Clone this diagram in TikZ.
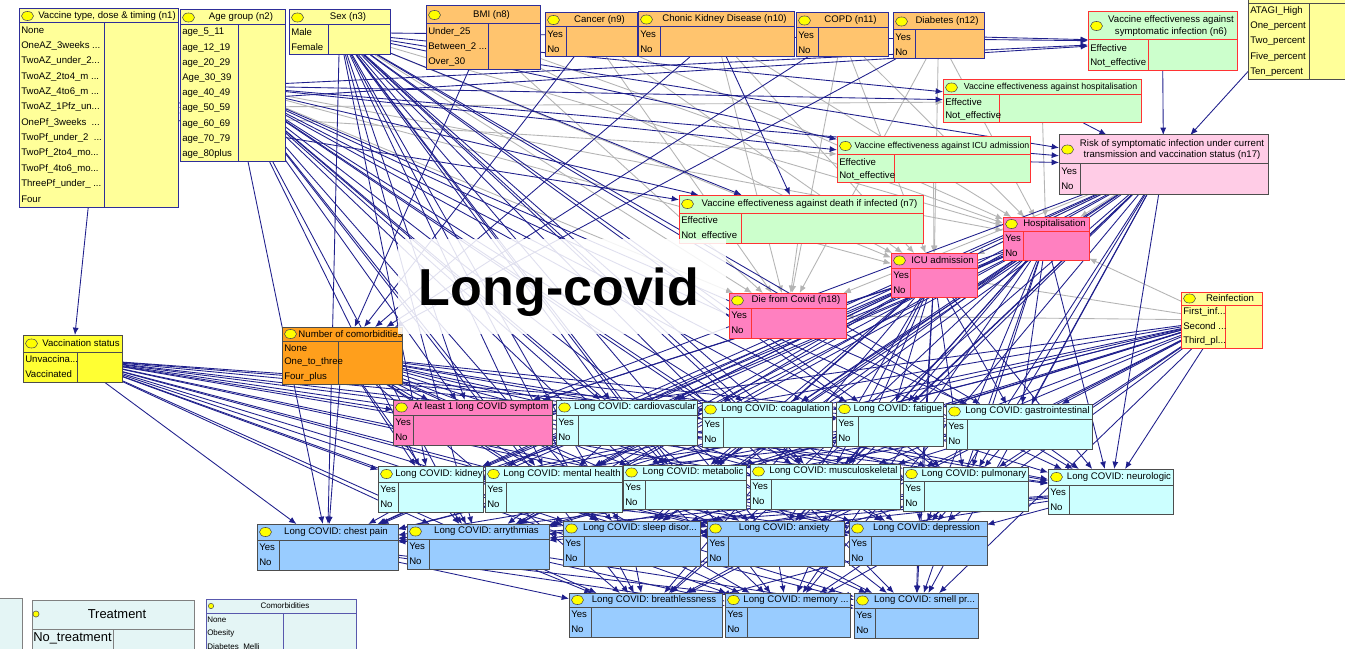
\documentclass[tikz,border=0pt]{standalone}
\usepackage{fontspec}
\setmainfont{Liberation Sans}
\usepackage{xcolor}
\usetikzlibrary{fit,calc,backgrounds,arrows.meta}
\definecolor{NetYellow}{HTML}{FFFF99}
\definecolor{NetAmber}{HTML}{FFC46E}
\definecolor{NetGreen}{HTML}{CCFFCC}
\definecolor{NetPink}{HTML}{FF80C0}
\definecolor{NetRose}{HTML}{FFCCE6}
\definecolor{NetCyan}{HTML}{CCFFFF}
\definecolor{NetSky}{HTML}{99CCFF}
\definecolor{NetLemon}{HTML}{FFFF33}
\definecolor{NetOrange}{HTML}{FF9F1C}
\definecolor{NetMist}{HTML}{E4F5F5}
\definecolor{NetNavy}{HTML}{1F1F8C}
\definecolor{NetEdge}{HTML}{2E2E99}
\definecolor{NetRed}{HTML}{FF3333}
\definecolor{NetGrey}{HTML}{4D4D4D}
\definecolor{NetFaint}{HTML}{B4B4B4}
\definecolor{NetLamp}{HTML}{FFFF00}

\tikzset{
  demo/.style={fill=NetYellow,draw=NetEdge},
  riskf/.style={fill=NetAmber,draw=NetEdge},
  effect/.style={fill=NetGreen,draw=NetRed},
  outcome/.style={fill=NetPink,draw=NetRed},
  anyn/.style={fill=NetPink,draw=NetGrey},
  riskn/.style={fill=NetRose,draw=NetGrey},
  reinfn/.style={fill=NetYellow,draw=NetRed},
  atagin/.style={fill=NetYellow,draw=NetGrey},
  vstatn/.style={fill=NetLemon,draw=NetGrey},
  ncomn/.style={fill=NetOrange,draw=NetGrey},
  lcA/.style={fill=NetCyan,draw=NetGrey},
  lcB/.style={fill=NetSky,draw=NetGrey},
  legn/.style={fill=NetMist,draw=gray},
  netbox/.style={line width=.75pt,inner sep=0pt,outer sep=0pt},
  lamp/.style={fill=NetLamp,draw=black!70,line width=.4pt},
  ntitle/.style={font=\fontsize{7.2}{8.6}\selectfont,inner sep=0pt,align=center},
  nstate/.style={font=\fontsize{7.2}{8.6}\selectfont,inner sep=0pt,anchor=west},
  link/.style={draw=NetNavy,line width=.65pt,-{Latex[length=5.5pt,width=4.5pt]}},
  faint/.style={draw=NetFaint,line width=.65pt,-{Latex[length=5.5pt,width=4.5pt]}},
}

\newcommand\trunc{...}
\newcommand\smallhead{\fontsize{6.6}{7.6}\selectfont}
\newcommand\lcnodes{anylc,lccard,lccoag,lcfat,lcgast,lckid,lcment,lcmeta,lcmusc,lcpulm,lcneur,lcchest,lcarr,lcsleep,lcanx,lcdep,lcbreath,lcmem,lcsmell}

% name, style, top left, bottom right, header bottom, divider, title
\newcommand\netnode[9]{%
  \node[netbox,#2,fit={(#3,#4) (#5,#6)}] (#1) {};
  \draw[netbox,#2,fill=none] (#3,#7) -- (#5,#7) (#8,#7) -- (#8,#6);
  \coordinate (#1-s) at (#3,#7);
  \path[lamp] (#3+8.5,{(#4+#7)/2}) ellipse [x radius=4.5pt,y radius=3.4pt];
  \node[ntitle] at ({(#3+17+#5)/2},{(#4+#7)/2}) {#9};
}
% [row pitch] name, states
\newcommand\nodestates[3][15]{%
  \foreach \st [count=\i] in {#3}
    \node[nstate] at ($(#2-s)+(2,{(\i-0.5)*#1})$) {\st};
}

\begin{document}
\begin{tikzpicture}[x=.75pt,y=-.75pt]
\useasboundingbox (0,0) rectangle (1345,649);
\clip (0,0) rectangle (1345,649);

\netnode{vtype}{demo}{19}{9}{178}{207}{23}{104}{Vaccine type, dose \& timing (n1)}
\nodestates[15.33]{vtype}{None,OneAZ\_3weeks \trunc,TwoAZ\_under\_2\trunc,TwoAZ\_2to4\_m \trunc,TwoAZ\_4to6\_m \trunc,TwoAZ\_1Pfz\_un\trunc,OnePf\_3weeks \ \trunc,TwoPf\_under\_2 \ \trunc,TwoPf\_2to4\_mo\trunc,TwoPf\_4to6\_mo\trunc,ThreePf\_under\_ \trunc,Four}
\netnode{age}{demo}{180}{10}{285}{162}{25}{238}{Age group (n2)}
\nodestates[15.2]{age}{age\_5\_11,age\_12\_19,age\_20\_29,Age\_30\_39,age\_40\_49,age\_50\_59,age\_60\_69,age\_70\_79,age\_80plus}
\netnode{sex}{demo}{289}{10}{390}{55}{25}{328}{Sex (n3)}
\nodestates{sex}{Male,Female}

\netnode{bmi}{riskf}{426}{6}{540}{70}{24}{488}{BMI (n8)}
\nodestates[15.3]{bmi}{Under\_25,Between\_2 \trunc,Over\_30}
\netnode{cancer}{riskf}{545}{13}{637}{57}{27}{566}{Cancer (n9)}
\nodestates{cancer}{Yes,No}
\netnode{ckd}{riskf}{638}{12}{794}{57}{27}{660}{Chonic Kidney Disease (n10)}
\nodestates{ckd}{Yes,No}
\netnode{copd}{riskf}{796}{13}{888}{57}{28}{818}{COPD (n11)}
\nodestates[14.5]{copd}{Yes,No}
\netnode{diab}{riskf}{893}{13}{984}{59}{30}{915}{Diabetes (n12)}
\nodestates[14.5]{diab}{Yes,No}

\netnode{vesym}{effect}{1088}{12}{1237}{71}{40}{1148}{Vaccine effectiveness against\\symptomatic infection (n6)}
\nodestates[15.5]{vesym}{Effective,Not\_effective}
\netnode{atagi}{atagin}{1248}{-60}{1360}{80}{3.5}{1309}{}
\nodestates[15.2]{atagi}{ATAGI\_High,One\_percent,Two\_percent,Five\_percent,Ten\_percent}
\netnode{vehosp}{effect}{943}{80}{1141}{123}{95}{999}{\smallhead Vaccine effectiveness against hospitalisation}
\nodestates[14]{vehosp}{Effective,Not\_effective}
\netnode{veicu}{effect}{837}{137}{1030}{183}{155}{894}{\smallhead Vaccine effectiveness against ICU admission}
\nodestates[14]{veicu}{Effective,Not\_effective}
\netnode{risk}{riskn}{1059}{135}{1268}{194}{164}{1080}{Risk of symptomatic infection under current\\transmission and vaccination status (n17)}
\nodestates{risk}{Yes,No}
\netnode{vedeath}{effect}{679}{195}{923}{243}{213}{741}{Vaccine effectiveness against death if infected (n7)}
\nodestates{vedeath}{Effective,Not\_effective}

\netnode{hosp}{outcome}{1003}{217}{1089}{260}{231}{1023}{Hospitalisation}
\nodestates[14.5]{hosp}{Yes,No}
\netnode{icu}{outcome}{891}{253}{977}{297}{268}{910}{ICU admission}
\nodestates[14.5]{icu}{Yes,No}
\netnode{die}{outcome}{729}{293}{846}{338}{308}{751}{Die from Covid (n18)}
\nodestates{die}{Yes,No}
\netnode{reinf}{reinfn}{1181}{292}{1262}{348}{305}{1225}{Reinfection}
\nodestates[14.3]{reinf}{First\_inf\trunc,Second \trunc,Third\_pl\trunc}

\netnode{vstat}{vstatn}{23}{335}{122}{382}{352}{77}{Vaccination status}
\nodestates{vstat}{Unvaccina\trunc,Vaccinated}
\netnode{ncom}{ncomn}{282}{327}{402}{384}{341}{338}{Number of comorbidities}
\nodestates[14.3]{ncom}{None,One\_to\_three,Four\_plus}

\netnode{anylc}{anyn}{393}{400}{552}{445}{415}{413}{At least 1 long COVID symptom}
\nodestates{anylc}{Yes,No}
\netnode{lccard}{lcA}{556}{400}{697}{445}{415}{578}{Long COVID: cardiovascular}
\nodestates{lccard}{Yes,No}
\netnode{lccoag}{lcA}{702}{402}{832}{447}{417}{723}{Long COVID: coagulation}
\nodestates{lccoag}{Yes,No}
\netnode{lcfat}{lcA}{836}{402}{943}{446}{416}{858}{Long COVID: fatigue}
\nodestates{lcfat}{Yes,No}
\netnode{lcgast}{lcA}{946}{404}{1092}{449}{419}{967}{Long COVID: gastrointestinal}
\nodestates{lcgast}{Yes,No}

\netnode{lckid}{lcA}{378}{466}{483}{512}{482}{398}{Long COVID: kidney}
\nodestates{lckid}{Yes,No}
\netnode{lcment}{lcA}{485}{466}{622}{512}{482}{506}{Long COVID: mental health}
\nodestates{lcment}{Yes,No}
\netnode{lcmeta}{lcA}{623}{465}{746}{509}{480}{645}{Long COVID: metabolic}
\nodestates{lcmeta}{Yes,No}
\netnode{lcmusc}{lcA}{750}{464}{900}{509}{479}{771}{Long COVID: musculoskeletal}
\nodestates{lcmusc}{Yes,No}
\netnode{lcpulm}{lcA}{903}{467}{1028}{511}{481}{924}{Long COVID: pulmonary}
\nodestates{lcpulm}{Yes,No}
\netnode{lcneur}{lcA}{1048}{469}{1173}{514}{485}{1069}{Long COVID: neurologic}
\nodestates{lcneur}{Yes,No}

\netnode{lcchest}{lcB}{257}{524}{398}{570}{540}{279}{Long COVID: chest pain}
\nodestates{lcchest}{Yes,No}
\netnode{lcarr}{lcB}{407}{524}{549}{569}{539}{429}{Long COVID: arrythmias}
\nodestates{lcarr}{Yes,No}
\netnode{lcsleep}{lcB}{563}{521}{700}{566}{536}{584}{Long COVID: sleep disor\trunc}
\nodestates{lcsleep}{Yes,No}
\netnode{lcanx}{lcB}{707}{521}{844}{566}{536}{728}{Long COVID: anxiety}
\nodestates{lcanx}{Yes,No}
\netnode{lcdep}{lcB}{849}{521}{987}{565}{536}{871}{Long COVID: depression}
\nodestates{lcdep}{Yes,No}

\netnode{lcbreath}{lcB}{569}{593}{722}{637}{607}{591}{Long COVID: breathlessness}
\nodestates{lcbreath}{Yes,No}
\netnode{lcmem}{lcB}{725}{593}{850}{637}{607}{747}{Long COVID: memory \trunc}
\nodestates{lcmem}{Yes,No}
\netnode{lcsmell}{lcB}{854}{593}{978}{638}{608}{875}{Long COVID: smell pr\trunc}
\nodestates{lcsmell}{Yes,No}

% legend boxes along the bottom edge
\node[netbox,legn,fit={(-60,598) (22,700)}] (legpart) {};
\node[netbox,legn,fit={(32,600) (194,700)}] (treat) {};
\draw[netbox,draw=gray] (32,629) -- (194,629) (113,629) -- (113,700);
\path[lamp] (36,614) circle [radius=2.3pt];
\node[font=\fontsize{9.7}{11}\selectfont,inner sep=0pt] at (117,614) {Treatment};
\node[font=\fontsize{9.7}{11}\selectfont,inner sep=0pt,anchor=west] at (33,638) {No\_treatment};
\node[netbox,fill=NetMist,draw=NetEdge!80,fit={(206,599) (356,700)}] (comorb) {};
\draw[netbox,draw=NetEdge!80] (206,613) -- (356,613) (283,613) -- (283,700);
\path[lamp] (211,606) circle [radius=2pt];
\node[font=\fontsize{6}{7}\selectfont,inner sep=0pt] at (285,606) {Comorbidities};
\foreach \st [count=\i] in {None,Obesity,Diabetes\_Melli}
  \node[font=\fontsize{6}{7}\selectfont,inner sep=0pt,anchor=west] at (207,{606.5+\i*13.5}) {\st};

\begin{pgfonlayer}{background}
\fill[white] (0,0) rectangle (1345,649);
\foreach \s in {age,sex,bmi,cancer,ckd,copd,diab,reinf,risk}
  \foreach \t in {die,icu,hosp}
    \draw[faint] (\s) -- (\t);
\draw[faint] (vedeath) -- (die);
\draw[faint] (veicu) -- (icu);
\draw[faint] (vehosp) -- (hosp);
\foreach \t in {vehosp,veicu}
  \draw[faint] (vtype) -- (\t);

\draw[link] (vtype) -- (vstat);
\foreach \t in {vesym,vedeath}
  \draw[link] (vtype) -- (\t);
\draw[link] (diab) -- (vesym);
\draw[link] (ckd) -- (vedeath);
\foreach \s in {bmi,cancer,ckd,copd,diab}
  \draw[link] (\s) -- (ncom);
\foreach \s in {vesym,vehosp,veicu,atagi}
  \draw[link] (\s) -- (risk);
\foreach \s in {age,sex}
  \foreach \t in {vesym,vehosp,veicu,vedeath,risk}
    \draw[link] (\s) -- (\t);
\foreach \s in {age,sex,vstat,ncom,reinf,risk,hosp,icu}
  \foreach \t in \lcnodes
    \draw[link] (\s) -- (\t);
\foreach \s in {lccard,lccoag,lcfat,lcgast}
  \foreach \t in {lckid,lcment,lcmeta,lcmusc,lcpulm,lcneur}
    \draw[link] (\s) -- (\t);
\foreach \s in {lckid,lcment,lcmeta,lcmusc,lcpulm,lcneur}
  \foreach \t in {lcchest,lcarr,lcsleep,lcanx,lcdep}
    \draw[link] (\s) -- (\t);
\foreach \s in {lcchest,lcarr,lcsleep,lcanx,lcdep}
  \foreach \t in {lcbreath,lcmem,lcsmell}
    \draw[link] (\s) -- (\t);
\end{pgfonlayer}

% banner over the middle of the net
\fill[white,opacity=.86] (398,239) rectangle (726,334);
\node[font=\fontsize{39}{40}\selectfont\bfseries,inner sep=0pt,anchor=base] (banner) at (559,305) {Long-covid};
\end{tikzpicture}
\end{document}
